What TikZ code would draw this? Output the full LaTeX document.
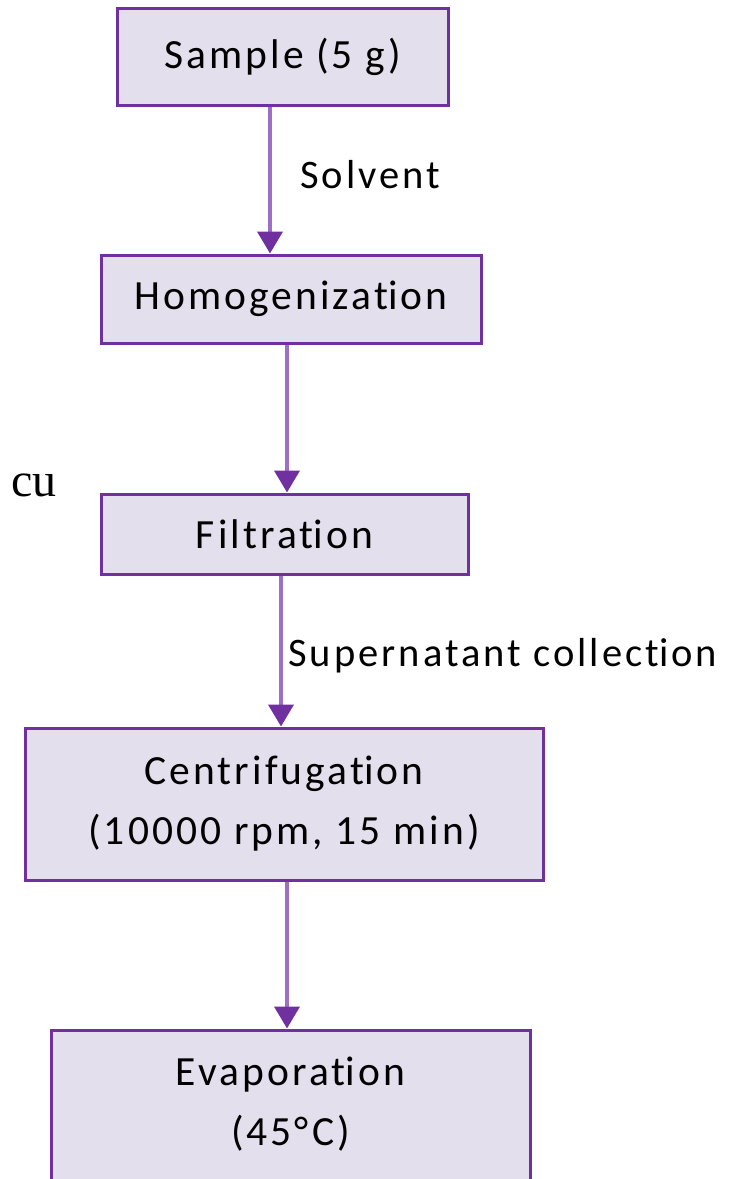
\documentclass[tikz,border=0pt]{standalone}
\usepackage{fontspec}
\setmainfont{Carlito}[LetterSpace=7.5,Ligatures={NoCommon,NoRare,NoContextual}]
\newfontfamily\serifcu{Liberation Serif}
\usetikzlibrary{arrows.meta}
\definecolor{boxborder}{HTML}{7030A0}
\definecolor{boxfill}{HTML}{E4DFEC}
\definecolor{arrline}{HTML}{9D6FC6}
\newcommand\tiNoLig{t\kern0pt i}
\begin{document}
\begin{tikzpicture}[x=1pt,y=-1pt,
  stepbox/.style={draw=boxborder,fill=boxfill,line width=3pt,inner sep=0pt,
    minimum width=#1,align=center,font=\fontsize{41.5}{60}\selectfont},
  flow/.style={draw=arrline,line width=4pt,
    -{Triangle[width=25pt,length=22pt,color=boxborder]}},
  lbl/.style={font=\fontsize{40.5}{48}\selectfont,inner sep=0pt}]
\useasboundingbox (0,0) rectangle (732,1179);
\clip (0,0) rectangle (732,1179);
\node[stepbox=331pt,minimum height=97pt] (sample) at (282.5,56.5) {Sample (5 g)};
\node[stepbox=380pt,minimum height=88pt] (homo) at (291,299) {Homogeniza\tiNoLig on};
\node[stepbox=367pt,minimum height=80pt] (filt) at (284.5,534) {Filtra\tiNoLig on};
\node[stepbox=518pt,minimum height=152pt] (centri) at (284,804) {Centrifuga\tiNoLig on\\(10000 rpm, 15 min)};
\node[stepbox=479pt,minimum height=190pt] (evap) at (290.5,1125) {};
\node[font=\fontsize{41.5}{60}\selectfont,align=center,inner sep=0pt] (evaptxt) at (290.5,1104) {Evapora\tiNoLig on\\(45°C)};
\draw[flow] (sample.south -| 270,0) -- (homo.north -| 270,0);
\draw[flow] (homo.south -| 287,0) -- (filt.north -| 287,0);
\draw[flow] (filt.south -| 281,0) -- (centri.north -| 281,0);
\draw[flow] (centri.south -| 287,0) -- (evap.north -| 287,0);
\node[lbl,anchor=west] (solvent) at (300,175) {Solvent};
\node[lbl,anchor=west] (super) at (288,656) {Supernatant collec\tiNoLig on};
\node[font=\serifcu\fontsize{48}{50}\selectfont,inner sep=0pt,anchor=base west] (cu) at (11,496) {cu};
\end{tikzpicture}
\end{document}
